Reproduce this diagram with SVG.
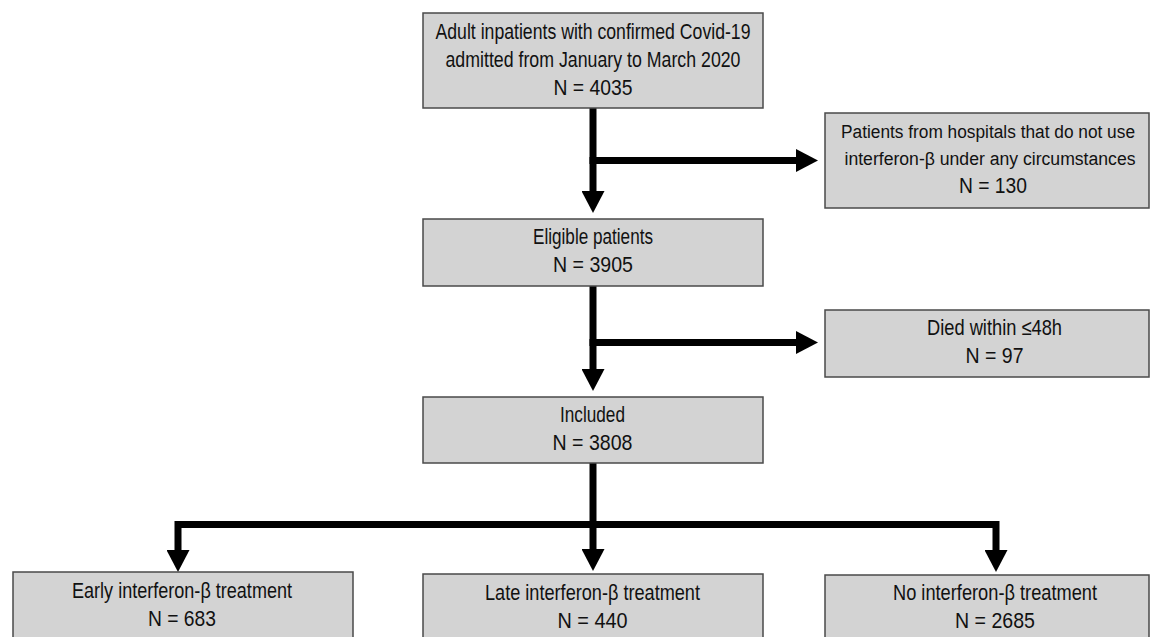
<svg xmlns="http://www.w3.org/2000/svg" width="1150" height="637" viewBox="0 0 1150 637">
<style>
.box{fill:#d3d3d3;stroke:#4a4a4a;stroke-width:1.5}
.t{font-family:"Liberation Sans Narrow","Liberation Sans",Arial,sans-serif;font-size:22px;fill:#111;text-anchor:middle}
.s{font-size:18px}
.c{fill:none;stroke:#000;stroke-width:7;stroke-linecap:butt;stroke-linejoin:miter}
</style>
<defs>
<marker id="ah" markerUnits="userSpaceOnUse" markerWidth="22" markerHeight="23" refX="11" refY="11.5" orient="auto-start-reverse" viewBox="0 0 22 23">
<path d="M0,0 L22,11.5 L0,23 Z" fill="#000"/>
</marker>
</defs>
<rect width="1150" height="637" fill="#fff"/>
<g id="connectors">
<path class="c" d="M593,108 V202" marker-end="url(#ah)"/>
<path class="c" d="M589.5,160.5 H807" marker-end="url(#ah)"/>
<path class="c" d="M593,286 V380" marker-end="url(#ah)"/>
<path class="c" d="M589.5,342.5 H807" marker-end="url(#ah)"/>
<path class="c" d="M593,463 V560" marker-end="url(#ah)"/>
<path class="c" d="M178,561 V524.5 H996 V561" marker-start="url(#ah)" marker-end="url(#ah)"/>
</g>
<g id="n_all">
<rect class="box" x="423" y="13" width="340" height="95"/>
<text class="t" x="593" y="39" textLength="315" lengthAdjust="spacingAndGlyphs">Adult inpatients with confirmed Covid-19</text>
<text class="t" x="593" y="67" textLength="295" lengthAdjust="spacingAndGlyphs">admitted from January to March 2020</text>
<text class="t" x="593" y="95" textLength="79" lengthAdjust="spacingAndGlyphs">N = 4035</text>
</g>
<g id="n_excl1">
<rect class="box" x="825" y="113" width="324" height="95"/>
<text class="t s" x="988" y="138" textLength="294" lengthAdjust="spacingAndGlyphs">Patients from hospitals that do not use</text>
<text class="t s" x="990" y="165" textLength="291" lengthAdjust="spacingAndGlyphs">interferon-β under any circumstances</text>
<text class="t" x="993" y="193" textLength="68" lengthAdjust="spacingAndGlyphs">N = 130</text>
</g>
<g id="n_eligible">
<rect class="box" x="423" y="219" width="340" height="67"/>
<text class="t" x="593" y="244" textLength="120" lengthAdjust="spacingAndGlyphs">Eligible patients</text>
<text class="t" x="593" y="272" textLength="80" lengthAdjust="spacingAndGlyphs">N = 3905</text>
</g>
<g id="n_excl2">
<rect class="box" x="825" y="310" width="324" height="67"/>
<text class="t" x="994.5" y="335" textLength="135" lengthAdjust="spacingAndGlyphs">Died within ≤48h</text>
<text class="t" x="994.5" y="363" textLength="58" lengthAdjust="spacingAndGlyphs">N = 97</text>
</g>
<g id="n_included">
<rect class="box" x="423" y="397" width="340" height="66"/>
<text class="t" x="592.5" y="422" textLength="65" lengthAdjust="spacingAndGlyphs">Included</text>
<text class="t" x="592.5" y="450" textLength="80" lengthAdjust="spacingAndGlyphs">N = 3808</text>
</g>
<g id="n_early">
<rect class="box" x="13" y="572" width="340" height="72"/>
<text class="t" x="182" y="598" textLength="220" lengthAdjust="spacingAndGlyphs">Early interferon-β treatment</text>
<text class="t" x="182" y="626" textLength="68" lengthAdjust="spacingAndGlyphs">N = 683</text>
</g>
<g id="n_late">
<rect class="box" x="423" y="574" width="340" height="72"/>
<text class="t" x="592.5" y="600" textLength="215" lengthAdjust="spacingAndGlyphs">Late interferon-β treatment</text>
<text class="t" x="592.5" y="628" textLength="70" lengthAdjust="spacingAndGlyphs">N = 440</text>
</g>
<g id="n_none">
<rect class="box" x="825" y="575" width="324" height="72"/>
<text class="t" x="995" y="600" textLength="204" lengthAdjust="spacingAndGlyphs">No interferon-β treatment</text>
<text class="t" x="995" y="628" textLength="80" lengthAdjust="spacingAndGlyphs">N = 2685</text>
</g>
</svg>
